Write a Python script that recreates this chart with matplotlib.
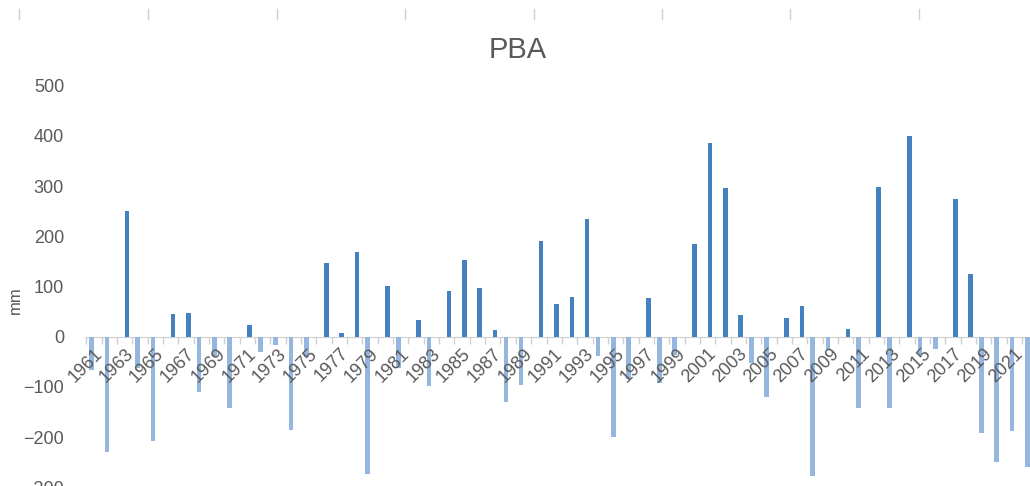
import matplotlib
matplotlib.use('Agg')
import matplotlib.pyplot as plt
from matplotlib.lines import Line2D
import numpy as np

# PBA anomaly per year (mm)
years = list(range(1961, 2023))
pba = [-66, -229, 251, -63, -207, 45, 48, -111, -38, -143,
       23, -31, -17, -185, -40, 147, 8, 169, -274, 100,
       -63, 33, -98, 92, 152, 97, 13, -131, -96, 191,
       65, 80, 234, -38, -200, -85, 77, -93, -37, 184,
       385, 296, 44, -53, -121, 38, 62, -277, -27, 15,
       -143, 298, -143, 400, -37, -24, 274, 125, -191, -250,
       -188, -259]
y_ticks = [-300, -200, -100, 0, 100, 200, 300, 400, 500]

pos_color = '#4580bf'
neg_color = '#95b6df'
text_color = '#595959'

vals = np.array(pba, dtype=float)
pos = np.where(vals > 0, vals, 0)
neg = np.where(vals < 0, vals, 0)
x = np.arange(len(years))

plt.rcParams['font.family'] = ['Liberation Sans', 'DejaVu Sans']

fig = plt.figure(figsize=(10.30, 4.86), dpi=100)
# plot area runs slightly past the right and bottom edges, as in the cropped source
ax = fig.add_axes([86.3 / 1030, -0.0027, 951.1 / 1030, 0.8264])
ax.set_axisbelow(False)

ax.bar(x - 0.15, neg, width=0.3, color=neg_color, zorder=2)
ax.bar(x + 0.15, pos, width=0.3, color=pos_color, zorder=2)

ax.set_xlim(-0.5, len(years) - 0.5)
ax.set_ylim(-300, 500)

for side in ['top', 'right', 'left']:
    ax.spines[side].set_visible(False)
ax.spines['bottom'].set_position(('data', 0))
ax.spines['bottom'].set_color('#d0d0d0')
ax.spines['bottom'].set_zorder(1)

ax.set_yticks(y_ticks)
ax.tick_params(axis='y', length=0, pad=16, labelsize=13, labelcolor=text_color)

ax.set_xticks(x[::2])
ax.set_xticklabels([str(y) for y in years[::2]])
ax.set_xticks(np.arange(-0.5, len(years), 1), minor=True)
ax.tick_params(axis='x', which='major', length=0, pad=6, labelsize=13,
               labelcolor=text_color)
ax.tick_params(axis='x', which='minor', length=5, color='#d0d0d0', width=1)
for lab in ax.get_xticklabels():
    lab.set_rotation(45)
    lab.set_ha('right')
    lab.set_va('top')
    lab.set_rotation_mode('anchor')

fig.text(518 / 1030, 1 - 50 / 486, 'PBA', ha='center', va='center',
         fontsize=21, color=text_color)
fig.text(15 / 1030, 1 - 300 / 486, 'mm', ha='center', va='center',
         rotation=90, fontsize=12, color=text_color)

# tick marks of the neighbouring chart, cut off at the top of the picture
for px in [19, 148, 277, 405, 534, 662, 790, 919]:
    fig.add_artist(Line2D([px / 1030, px / 1030], [1 - 9 / 486, 1 - 19 / 486],
                          color='#d0d0d0', lw=1))

fig.savefig('out.png', dpi=100)
